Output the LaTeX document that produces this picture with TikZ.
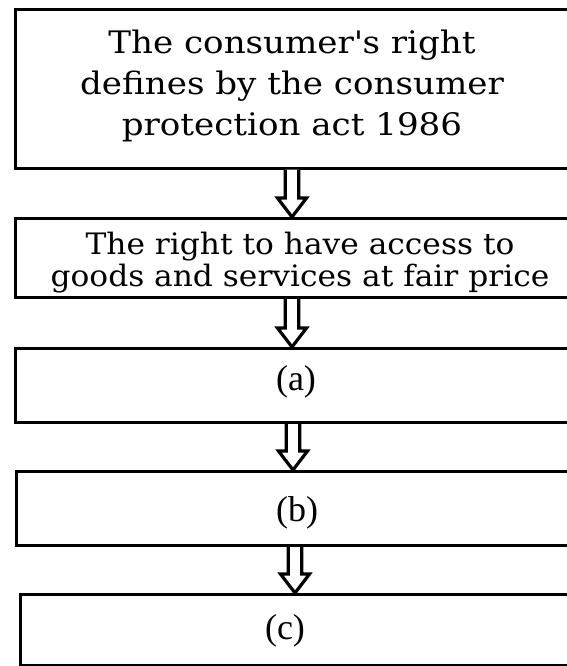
\documentclass[tikz,border=0pt]{standalone}
\usepackage{fontspec}
\setmainfont{DejaVu Serif}
\newfontfamily\topfont{DejaVu Serif}[FakeStretch=1.1]
\newfontfamily\secfont{DejaVu Serif}[FakeStretch=1.06]
\newfontfamily\labfont{Liberation Serif}
\usetikzlibrary{calc}
\tikzset{
  boxstyle/.style={draw, line width=3pt, anchor=north west, inner sep=0pt},
  txt/.style={align=center, inner sep=0pt},
  lab/.style={inner sep=0pt, font=\labfont\fontsize{36}{37}\selectfont},
  fatarr/.style={draw, line width=3.2pt, line join=miter, fill=white},
}
\newcommand{\fatarrow}[2]{%
  \draw[fatarr] let \p1=(#1), \p2=(#2) in
    (\x1-6.8pt,\y1) -- (\x1-6.8pt,\y2+19pt) -- (\x1-14.5pt,\y2+19pt) -- (\x2,\y2)
    -- (\x1+14.5pt,\y2+19pt) -- (\x1+6.8pt,\y2+19pt) -- (\x1+6.8pt,\y1);}
\begin{document}
\begin{tikzpicture}[x=1pt,y=-1pt]
\useasboundingbox (0,0) rectangle (566,666);
\node[boxstyle, minimum width=600pt, minimum height=158pt] (b1) at (13.5,8.5) {};
\node[boxstyle, minimum width=600pt, minimum height=79pt] (b2) at (13.5,217) {};
\node[boxstyle, minimum width=600pt, minimum height=74pt] (b3) at (14,347) {};
\node[boxstyle, minimum width=600pt, minimum height=74pt] (b4) at (15.2,470) {};
\node[boxstyle, minimum width=600pt, minimum height=71pt] (b5) at (18.8,593) {};
\node[txt, font=\topfont\fontsize{31}{41}\selectfont] (t1) at (292,86) {The consumer\textquotesingle s right\\defines by the consumer\\protection act 1986};
\node[txt, font=\secfont\fontsize{29.5}{32}\selectfont] (t2) at (300,263) {The right to have access to\\goods and services at fair price};
\node[lab] (t3) at (296,382) {(a)};
\node[lab] (t4) at (297,513) {(b)};
\node[lab] (t5) at (285,631) {(c)};
\coordinate (ax1) at (292,0);
\coordinate (ax2) at (292,0);
\coordinate (ax3) at (293,0);
\coordinate (ax4) at (295,0);
\fatarrow{b1.south -| ax1}{b2.north -| ax1}
\fatarrow{b2.south -| ax2}{b3.north -| ax2}
\fatarrow{b3.south -| ax3}{b4.north -| ax3}
\fatarrow{b4.south -| ax4}{b5.north -| ax4}
\end{tikzpicture}
\end{document}
